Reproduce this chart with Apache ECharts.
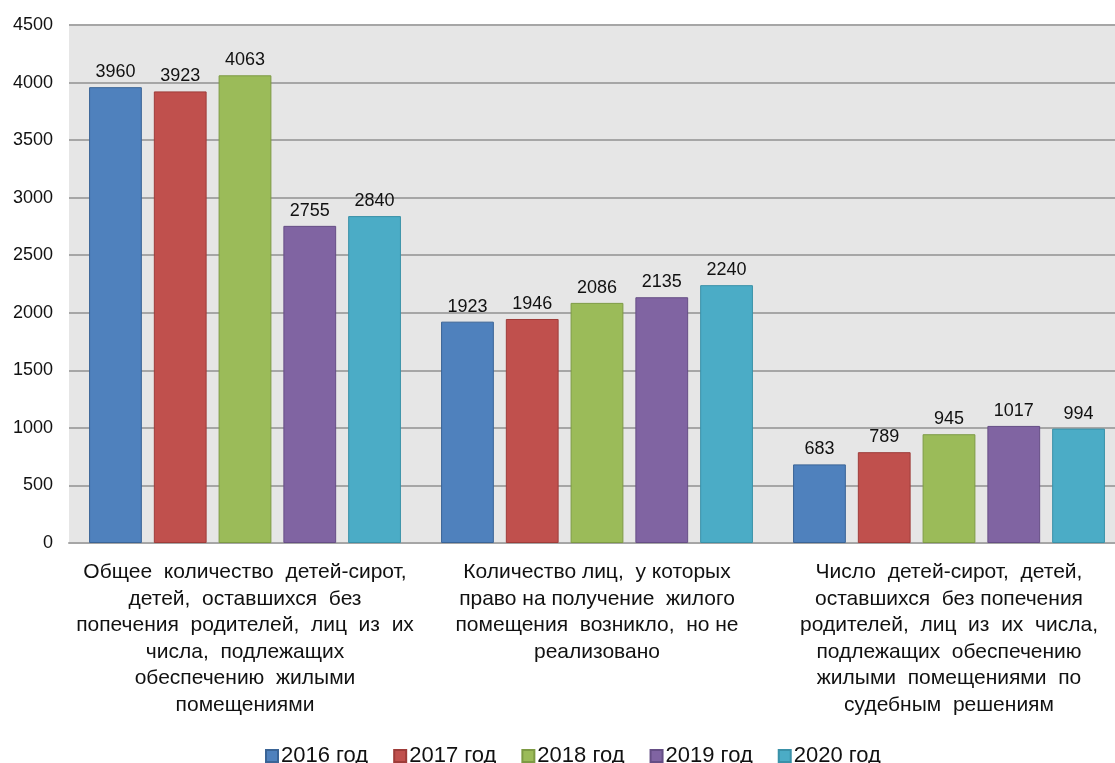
<!DOCTYPE html>
<html><head><meta charset="utf-8">
<script src="https://cdn.jsdelivr.net/npm/echarts@6/dist/echarts.min.js"></script>
<style>html,body{margin:0;padding:0;background:#fff;overflow:hidden;width:1115px;height:763px}#c{width:1125px;height:763px}</style>
</head><body><div id="c"></div>
<script>
const categories = [
  "Общее  количество  детей-сирот,\nдетей,  оставшихся  без\nпопечения  родителей,  лиц  из  их\nчисла,  подлежащих\nобеспечению  жилыми\nпомещениями",
  "Количество лиц,  у которых\nправо на получение  жилого\nпомещения  возникло,  но не\nреализовано",
  "Число  детей-сирот,  детей,\nоставшихся  без попечения\nродителей,  лиц  из  их  числа,\nподлежащих  обеспечению\nжилыми  помещениями  по\nсудебным  решениям"
];
const seriesNames = ["2016 год", "2017 год", "2018 год", "2019 год", "2020 год"];
const v2016 = [3960, 1923, 683];
const v2017 = [3923, 1946, 789];
const v2018 = [4063, 2086, 945];
const v2019 = [2755, 2135, 1017];
const v2020 = [2840, 2240, 994];
const yTicks = [0, 500, 1000, 1500, 2000, 2500, 3000, 3500, 4000, 4500];

const values = [v2016, v2017, v2018, v2019, v2020];
const colors = ['#4F81BD', '#C0504D', '#9BBB59', '#8064A2', '#4BACC6'];
const borders = ['#3A6496', '#9E3C39', '#7D9A44', '#654E85', '#3A91A8'];
const regular = "'Liberation Sans',Arial,sans-serif";

const chart = echarts.init(document.getElementById('c'));
chart.setOption({
  animation: false,
  backgroundColor: '#fff',
  textStyle: { fontFamily: regular },
  grid: { left: 69, right: 0, top: 25, bottom: 220, show: true, backgroundColor: '#E6E6E6', borderWidth: 0 },
  legend: {
    top: 740, left: 260, itemWidth: 12, itemHeight: 12, itemGap: 25,
    icon: 'rect',
    textStyle: { fontSize: 22, color: '#111', padding: [0, 0, 0, -2] },
    data: seriesNames
  },
  xAxis: {
    type: 'category', data: categories,
    axisLine: { lineStyle: { color: '#A6A6A6', width: 2 } },
    axisTick: { show: false },
    axisLabel: { interval: 0, margin: 16, fontSize: 21, lineHeight: 26.5, color: '#111', align: 'center' }
  },
  yAxis: {
    type: 'value', min: 0, max: 4500, interval: 500,
    axisLine: { show: false }, axisTick: { show: false },
    splitLine: { lineStyle: { color: '#A6A6A6', width: 2 } },
    axisLabel: { fontSize: 18, color: '#111', margin: 16,
      formatter: v => yTicks.includes(v) ? String(v) : '' }
  },
  series: values.map((d, i) => ({
    name: seriesNames[i], type: 'bar', data: d,
    barGap: '22.7%', barCategoryGap: '11.4%',
    itemStyle: { color: colors[i], borderColor: borders[i], borderWidth: 1 },
    label: { show: true, position: 'top', distance: 6, fontSize: 18, color: '#111' }
  }))
});
</script></body></html>
